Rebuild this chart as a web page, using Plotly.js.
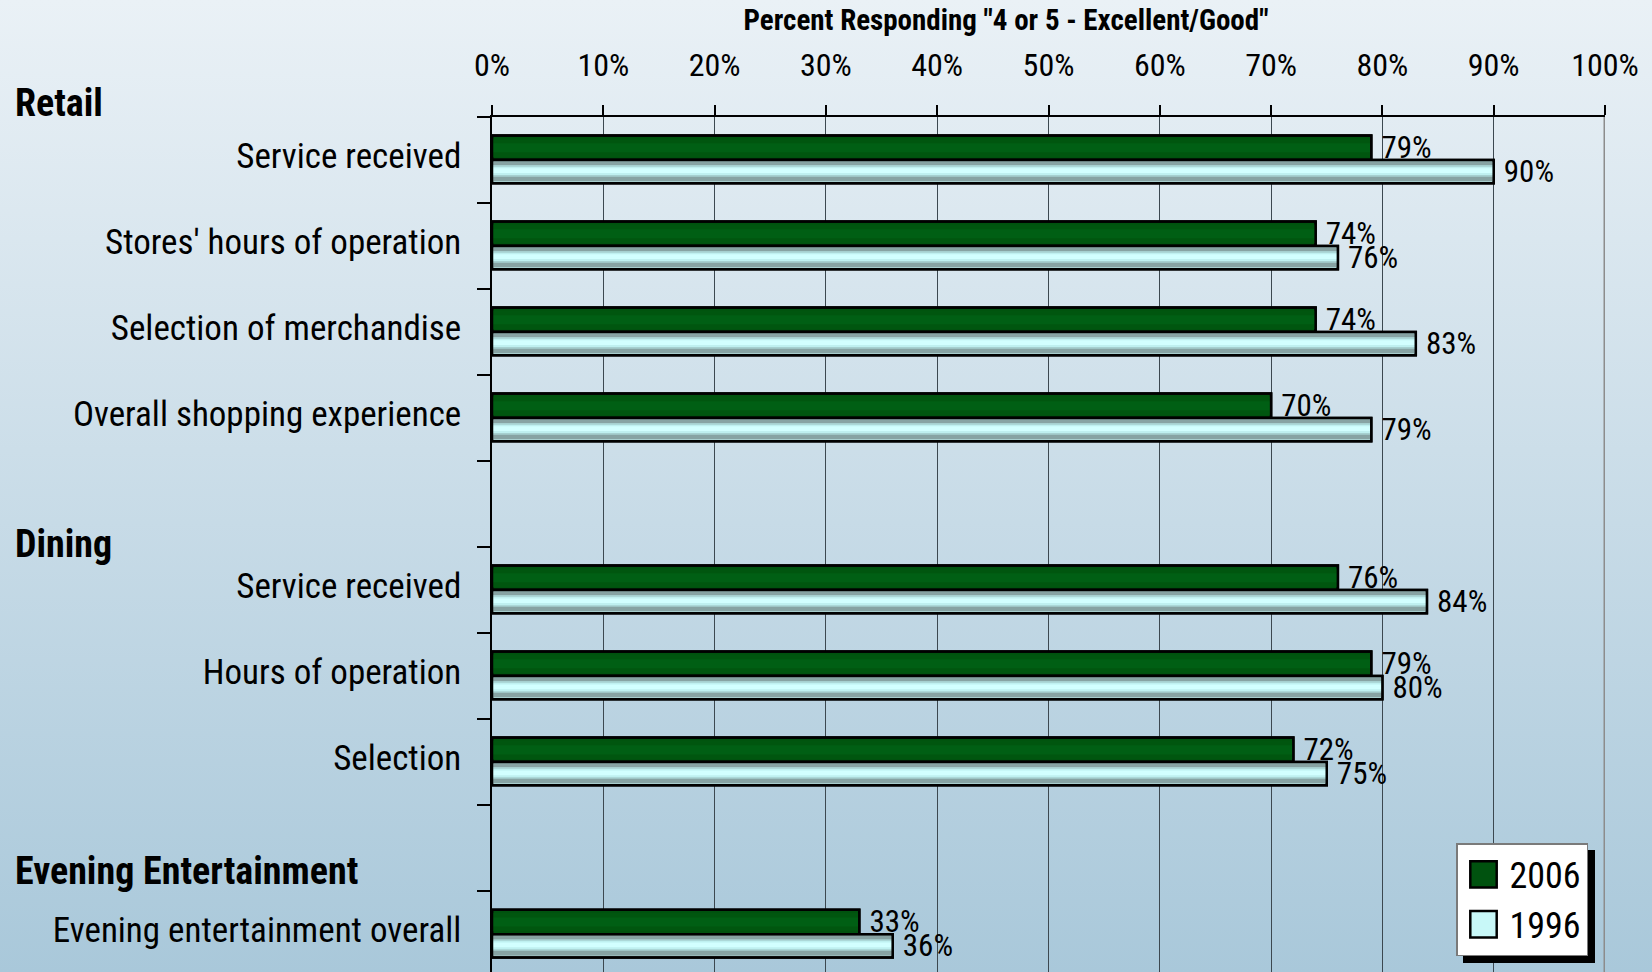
<!DOCTYPE html>
<html>
<head>
<meta charset="utf-8">
<script src="https://cdn.plot.ly/plotly-3.0.1.min.js"></script>
<style>
  html, body { margin: 0; padding: 0; }
  body { width: 1652px; height: 972px; overflow: hidden;
         background: linear-gradient(to bottom, #eaf1f6 0%, #a9c8da 100%); }
  #chart { width: 1652px; height: 972px; }
  #chart .legend rect.bg { filter: drop-shadow(7px 7px 0px #000000); }
</style>
</head>
<body>
<div id="chart"></div>
<script>
// ---- data ----
const categories = [
  "Service received",
  "Stores' hours of operation",
  "Selection of merchandise",
  "Overall shopping experience",
  "\u00a0",
  "Service received\u200b",
  "Hours of operation",
  "Selection",
  "\u00a0\u00a0",
  "Evening entertainment overall"
];
const values2006 = [79, 74, 74, 70, null, 76, 79, 72, null, 33];
const values1996 = [90, 76, 83, 79, null, 84, 80, 75, null, 36];
const seriesNames = ["2006", "1996"];
const groupHeaders = ["Retail", "Dining", "Evening Entertainment"];
const xTickValues = [0, 10, 20, 30, 40, 50, 60, 70, 80, 90, 100];
const xTickLabels = ["0%", "10%", "20%", "30%", "40%", "50%", "60%", "70%", "80%", "90%", "100%"];
const titleText = 'Percent Responding "4 or 5 - Excellent/Good"';

// ---- styling ----
const FONT = "'Roboto Condensed', 'Liberation Sans Narrow', 'Arial Narrow', sans-serif";
const W_GREEN = 0.285, W_LIGHT = 0.27;

function bar(vals, name, color, offset, width, opts) {
  return Object.assign({
    type: 'bar', orientation: 'h', x: vals, y: categories, name: name,
    offset: offset, width: width,
    marker: { color: color, line: { width: 0 } },
    showlegend: false, hoverinfo: 'skip', cliponaxis: false
  }, opts || {});
}
function outline(vals, offset, width) {
  return bar(vals, '', 'rgba(0,0,0,0)', offset, width, {
    marker: { color: 'rgba(0,0,0,0)', line: { color: '#000000', width: 2.5 } },
    text: vals.map(v => v === null ? '' : '\u00a0' + v + '%'),
    textposition: 'outside', constraintext: 'none',
    textfont: { family: FONT, size: 31, color: '#000000' },
    hoverinfo: 'x+y'
  });
}

const traces = [
  // 2006 (dark green)
  bar(values2006, seriesNames[0], '#003f0a', -W_GREEN, W_GREEN, {
    showlegend: true, legendgroup: 'a',
    marker: { color: '#00520f', line: { color: '#000000', width: 2.5 } } }),
  bar(values2006, '', '#00560f', -W_GREEN + 0.035, W_GREEN - 0.07),
  bar(values2006, '', '#005f14', -W_GREEN + 0.09, W_GREEN - 0.18),
  outline(values2006, -W_GREEN, W_GREEN),
  // 1996 (light cyan, striped)
  bar(values1996, seriesNames[1], '#cdfcfc', 0, W_LIGHT, {
    showlegend: true, legendgroup: 'b',
    marker: { color: '#c8f8f8', line: { color: '#000000', width: 2.5 } } }),
  bar(values1996, '', '#87a3a3', 0.017, 0.233),
  bar(values1996, '', '#a6d0d0', 0.058, 0.136),
  bar(values1996, '', '#bff0f0', 0.078, 0.097),
  bar(values1996, '', '#d2ffff', 0.0965, 0.055),
  outline(values1996, 0, W_LIGHT)
];

const L = 492, R = 47, T = 117, H = 972;
const plotH = H - T;
function py(pix) { return (H - pix) / plotH; }
function px(pix) { return (pix - L) / (1652 - L - R); }

const headerY = [102.5, 544, 871];
const annotations = groupHeaders.map((g, i) => ({
  text: '<b>' + g + '</b>', xref: 'paper', yref: 'paper',
  x: px(13), y: py(headerY[i]), xanchor: 'left', yanchor: 'middle',
  showarrow: false, font: { family: FONT, size: 38, color: '#000000' }
}));

const layout = {
  width: 1652, height: 972,
  margin: { l: L, r: R, t: T, b: 0, pad: 0 },
  paper_bgcolor: 'rgba(0,0,0,0)', plot_bgcolor: 'rgba(0,0,0,0)',
  barmode: 'overlay',
  font: { family: FONT, color: '#000000' },
  title: {
    text: '<b>' + titleText + '</b>', x: 1006 / 1652, xanchor: 'center',
    y: 1 - 20 / 972, yanchor: 'middle', yref: 'container',
    font: { family: FONT, size: 29, color: '#000000' }
  },
  xaxis: {
    side: 'top', range: [0, 100], tickvals: xTickValues, ticktext: xTickLabels,
    ticks: 'outside', ticklen: 10, tickwidth: 1.5, tickcolor: '#000000',
    showline: true, linecolor: '#000000', linewidth: 1.5,
    showgrid: true, gridcolor: '#3c4850', gridwidth: 1, zeroline: false,
    tickfont: { family: FONT, size: 32, color: '#000000' },
    ticklabelstandoff: 16, fixedrange: true
  },
  yaxis: {
    type: 'category', categoryorder: 'array', categoryarray: categories,
    range: [9.44, -0.5], tickson: 'boundaries',
    ticks: 'outside', ticklen: 13, tickwidth: 1.5, tickcolor: '#000000',
    showline: true, linecolor: '#000000', linewidth: 1.5,
    showgrid: false, zeroline: false,
    tickfont: { family: FONT, size: 35, color: '#000000' },
    ticklabelstandoff: 22, ticklabelshift: 4, fixedrange: true
  },
  showlegend: true,
  legend: {
    x: px(1456), y: py(843), xanchor: 'left', yanchor: 'top',
    bgcolor: '#ffffff', bordercolor: '#7a7a7a', borderwidth: 1.5,
    font: { family: FONT, size: 36, color: '#000000' },
    itemwidth: 42,
    traceorder: 'normal', itemclick: false, itemdoubleclick: false
  },
  shapes: [
    { type: 'line', xref: 'x', yref: 'paper', x0: 100, x1: 100, y0: 0, y1: 1,
      line: { color: '#8c8c8c', width: 3 }, layer: 'below' }
  ],
  annotations: annotations
};

Plotly.newPlot('chart', traces, layout, { displayModeBar: false }).then(gd => {
  document.querySelectorAll('#chart .legend .legendpoints path').forEach(p => {
    const t = p.getAttribute('transform') || '';
    p.setAttribute('transform', t + ' scale(2.2)');
    p.style.vectorEffect = 'non-scaling-stroke';
  });
});
</script>
</body>
</html>
